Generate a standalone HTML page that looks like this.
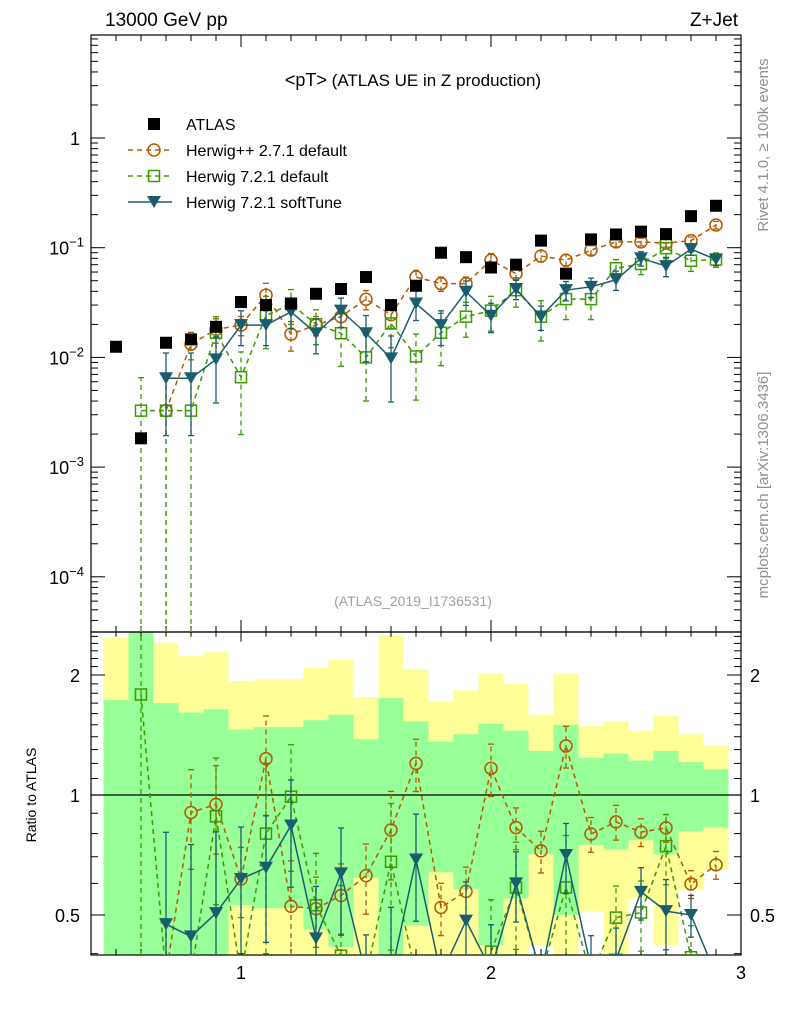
<!DOCTYPE html>
<html><head><meta charset="utf-8">
<style>
html,body{margin:0;padding:0;background:#fff;width:786px;height:1024px;overflow:hidden;}
svg{display:block;font-family:"Liberation Sans",sans-serif;}
</style></head>
<body>
<svg id="chart" width="786" height="1024" viewBox="0 0 786 1024" xmlns="http://www.w3.org/2000/svg" style="overflow:hidden">
<defs>
<clipPath id="clipMain"><rect x="91" y="35" width="650" height="597"/></clipPath>
<clipPath id="clipRatio"><rect x="91" y="632" width="650" height="323"/></clipPath>
</defs>
<text x="105" y="26" font-size="19">13000 GeV pp</text>
<text x="738" y="26" font-size="19" text-anchor="end">Z+Jet</text>
<text x="413" y="86" font-size="17" text-anchor="middle"><tspan font-size="18">&lt;pT&gt;</tspan> (ATLAS UE in Z production)</text>
<text x="413" y="606" font-size="14" fill="#a0a0a0" text-anchor="middle">(ATLAS_2019_I1736531)</text>
<text transform="translate(768,145) rotate(-90)" font-size="15" fill="#909090" text-anchor="middle">Rivet 4.1.0, ≥ 100k events</text>
<text transform="translate(768,485) rotate(-90)" font-size="15" fill="#909090" text-anchor="middle">mcplots.cern.ch [arXiv:1306.3436]</text>
<text transform="translate(36,795) rotate(-90)" font-size="14" text-anchor="middle">Ratio to ATLAS</text>
<g id="bands" clip-path="url(#clipRatio)"></g>
<g id="axes"></g>
<g id="mainMarks" clip-path="url(#clipMain)"></g>
<g id="ratioMarks" clip-path="url(#clipRatio)"></g>
<g id="legend"></g>
</svg>
<script>
const xVals=[0.5,0.6,0.7,0.8,0.9,1.0,1.1,1.2,1.3,1.4,1.5,1.6,1.7,1.8,1.9,2.0,2.1,2.2,2.3,2.4,2.5,2.6,2.7,2.8,2.9];
const atlas=[0.0125,0.00183,0.0136,0.0146,0.019,0.032,0.030,0.031,0.038,0.042,0.054,0.030,0.045,0.090,0.082,0.066,0.070,0.116,0.058,0.119,0.132,0.140,0.133,0.194,0.241];
const herwigpp=[null,null,0.00327,0.0132,0.018,0.0197,0.037,0.0163,0.0197,0.0235,0.0339,0.0245,0.054,0.047,0.047,0.077,0.058,0.084,0.077,0.095,0.113,0.113,0.110,0.116,0.161];
const herwigppErr=[null,null,1.0,0.28,0.25,0.2,0.28,0.3,0.2,0.2,0.2,0.25,0.15,0.15,0.15,0.15,0.12,0.12,0.12,0.1,0.1,0.08,0.08,0.08,0.08];
const herwig7=[null,0.00327,0.00327,0.00327,0.0168,0.0066,0.024,0.0307,0.0201,0.0166,0.0100,0.0204,0.0102,0.0168,0.0235,0.0267,0.041,0.0235,0.034,0.034,0.065,0.071,0.099,0.076,0.078];
const herwig7Err=[null,1.0,1.0,1.0,0.4,0.7,0.5,0.35,0.35,0.5,0.6,0.4,0.6,0.5,0.35,0.35,0.3,0.4,0.35,0.35,0.2,0.2,0.2,0.2,0.15];
const softTune=[null,null,0.00645,0.00645,0.0096,0.0197,0.0197,0.026,0.0166,0.0267,0.0166,0.0098,0.031,0.0197,0.0397,0.024,0.042,0.0235,0.041,0.044,0.051,0.080,0.068,0.097,0.078];
const softTuneErr=[null,null,0.7,0.7,0.6,0.35,0.35,0.3,0.35,0.3,0.45,0.6,0.3,0.35,0.25,0.3,0.2,0.25,0.2,0.2,0.2,0.15,0.2,0.12,0.12];
const bandYellowTop=[2.48,3,2.41,2.23,2.28,1.93,1.95,1.95,2.09,2.18,1.76,2.52,2.07,1.72,1.83,2.01,1.90,1.59,2.01,1.49,1.53,1.45,1.58,1.42,1.33];
const bandGreenTop=[1.73,3,1.70,1.61,1.64,1.46,1.48,1.48,1.54,1.59,1.38,1.75,1.53,1.36,1.42,1.51,1.45,1.29,1.50,1.24,1.27,1.22,1.29,1.21,1.16];
const bandGreenBottom=[0.3,0.3,0.3,0.3,0.3,0.53,0.52,0.52,0.46,0.416,0.62,0.3,0.47,0.64,0.58,0.42,0.55,0.71,0.50,0.75,0.73,0.77,0.71,0.81,0.83];
const bandYellowBottom=[0.3,0.3,0.3,0.3,0.3,0.3,0.3,0.3,0.3,0.3,0.3,0.3,0.3,0.3,0.3,0.3,0.3,0.42,0.3,0.51,0.3,0.55,0.42,0.58,0.65];
const xTicks=[1,2,3];
const mainYTicks=[-4,-3,-2,-1,0];
const ratioTicks=[0.5,1,2];

const NS="http://www.w3.org/2000/svg";
const X=v=>91+(v-0.4)*250;
const Y=v=>138-109.7*Math.log10(v);
const R=v=>795-120*Math.log2(v);
const clamp=(v,a,b)=>Math.max(a,Math.min(b,v));
function mk(tag,attrs,parent){const e=document.createElementNS(NS,tag);for(const k in attrs)e.setAttribute(k,attrs[k]);parent.appendChild(e);return e;}
const axes=document.getElementById('axes');
const bands=document.getElementById('bands');
const mm=document.getElementById('mainMarks');
const rm=document.getElementById('ratioMarks');
const lg=document.getElementById('legend');

xVals.forEach((x,i)=>{
  const x0=X(x-0.05),w=25;
  const yt=clamp(R(bandYellowTop[i]),632,955),yb=clamp(R(bandYellowBottom[i]),632,955);
  const gt=clamp(R(bandGreenTop[i]),632,955),gb=clamp(R(bandGreenBottom[i]),632,955);
  let r=mk('rect',{x:x0,y:yt,width:w,height:yb-yt,fill:'#ffff99'},bands);
  
  
  r=mk('rect',{x:x0,y:gt,width:w,height:gb-gt,fill:'#99ff99'},bands);
  
  
});

let f=mk('rect',{x:91,y:35,width:650,height:597,fill:'none',stroke:'#000','stroke-width':1.2},axes);


f=mk('rect',{x:91,y:632,width:650,height:323,fill:'none',stroke:'#000','stroke-width':1.2},axes);


let l=mk('line',{x1:91,x2:741,y1:R(1),y2:R(1),stroke:'#000','stroke-width':1.2},axes);



for(let k=5;k<=30;k++){
  const v=k/10,x=X(v),major=(k%10===0);const len=major?12:6;
  [[35,35+len],[632,632-len],[632,632+len*0.8],[955,955-len]].forEach(p=>{
    const t=mk('line',{x1:x,x2:x,y1:p[0],y2:p[1],stroke:'#000','stroke-width':1},axes);
    
    
  });
}
xTicks.forEach(v=>{
  const t=mk('text',{x:X(v),y:979,'font-size':18,'text-anchor':'middle'},axes);
  t.textContent=v;
  
  
});
for(let d=-5;d<=0;d++){
  for(let m=1;m<10;m++){
    const v=m*Math.pow(10,d);const y=Y(v);if(y<35||y>632)continue;
    const len=m===1?14:7;
    [[91,91+len],[741,741-len]].forEach(p=>{
      const t=mk('line',{x1:p[0],x2:p[1],y1:y,y2:y,stroke:'#000','stroke-width':1},axes);
      
      
    });
  }
}
mainYTicks.forEach(e=>{
  const t=mk('text',{x:e===0?80:84,y:Y(Math.pow(10,e))+7,'font-size':18,'text-anchor':'end'},axes);
  if(e===0){t.textContent='1';}else{
    t.textContent='10';
    const s=mk('tspan',{dy:-8,'font-size':13},t);s.textContent=String(e).replace('-','−');
  }
  
  
});
for(let k=4;k<=25;k++){
  const v=k/10;const y=R(v);if(y<632||y>955)continue;
  const major=(k===5||k===10||k===20);const len=major?14:7;
  [[91,91+len],[741,741-len]].forEach(p=>{
    const t=mk('line',{x1:p[0],x2:p[1],y1:y,y2:y,stroke:'#000','stroke-width':1},axes);
    
    
  });
}
ratioTicks.forEach(v=>{
  [[80,'end'],[750,'start']].forEach(p=>{
    const t=mk('text',{x:p[0],y:R(v)+7,'font-size':18,'text-anchor':p[1]},axes);
    t.textContent=v;
    
    
  });
});

const series=[
 {vals:herwigpp,err:herwigppErr,color:'#b35900',dash:'5,4',marker:'circle',name:'herwigpp'},
 {vals:herwig7,err:herwig7Err,color:'#3a9a00',dash:'5,4',marker:'square',name:'herwig7'},
 {vals:softTune,err:softTuneErr,color:'#1a5e6e',dash:'',marker:'tri',name:'softtune'}
];
function marker(s,x,y,g){
  let e;
  if(s.marker==='circle')e=mk('circle',{cx:x,cy:y,r:6,fill:'none',stroke:s.color,'stroke-width':1.5},g);
  else if(s.marker==='square')e=mk('rect',{x:x-5.5,y:y-5.5,width:11,height:11,fill:'none',stroke:s.color,'stroke-width':1.5},g);
  else e=mk('path',{d:`M${x-7},${y-6}L${x+7},${y-6}L${x},${y+6}Z`,fill:s.color},g);
  return e;
}
function drawPanel(g,fy,useRatio,top,bottom){
  series.forEach(s=>{
    const pts=[];
    xVals.forEach((x,i)=>{
      if(s.vals[i]==null)return;
      const den=useRatio?atlas[i]:1;
      const v=s.vals[i]/den;
      const lo=Math.max(s.vals[i]*(1-s.err[i]),1e-9)/den,hi=s.vals[i]*(1+s.err[i])/den;
      const px=X(x),py=clamp(fy(v),top-20,bottom+20);
      pts.push([px,py]);
      const y1=clamp(fy(lo),top-10,bottom+10),y2=clamp(fy(hi),top-10,bottom+10);
      const eb=mk('line',{x1:px,x2:px,y1:y1,y2:y2,stroke:s.color,'stroke-width':1.3,'stroke-dasharray':s.dash},g);
      
      
      [y1,y2].forEach(yy=>{const c=mk('line',{x1:px-3,x2:px+3,y1:yy,y2:yy,stroke:s.color,'stroke-width':1.3},g);
        
        });
    });
    const pl=mk('polyline',{points:pts.map(p=>p.join(',')).join(' '),fill:'none',stroke:s.color,'stroke-width':1.5,'stroke-dasharray':s.dash},g);
    
    
    pts.forEach(p=>{const m=marker(s,p[0],p[1],g);
      
      });
  });
}
drawPanel(mm,Y,false,35,632);
drawPanel(rm,R,true,632,955);
xVals.forEach((x,i)=>{
  const r=mk('rect',{x:X(x)-6,y:Y(atlas[i])-6,width:12,height:12,fill:'#000'},mm);
  
  
});

const items=[{label:'ATLAS',s:null},{label:'Herwig++ 2.7.1 default',s:series[0]},{label:'Herwig 7.2.1 default',s:series[1]},{label:'Herwig 7.2.1 softTune',s:series[2]}];
items.forEach((it,k)=>{
  const y=124+26*k;
  const g=mk('g',{},lg);
  
  
  if(!it.s){mk('rect',{x:148,y:y-6,width:12,height:12,fill:'#000'},g);}
  else{mk('line',{x1:128,x2:172,y1:y,y2:y,stroke:it.s.color,'stroke-width':1.5,'stroke-dasharray':it.s.dash},g);marker(it.s,154,y,g);}
  const t=mk('text',{x:186,y:y+6,'font-size':16},g);t.textContent=it.label;
});
</script>
</body></html>
